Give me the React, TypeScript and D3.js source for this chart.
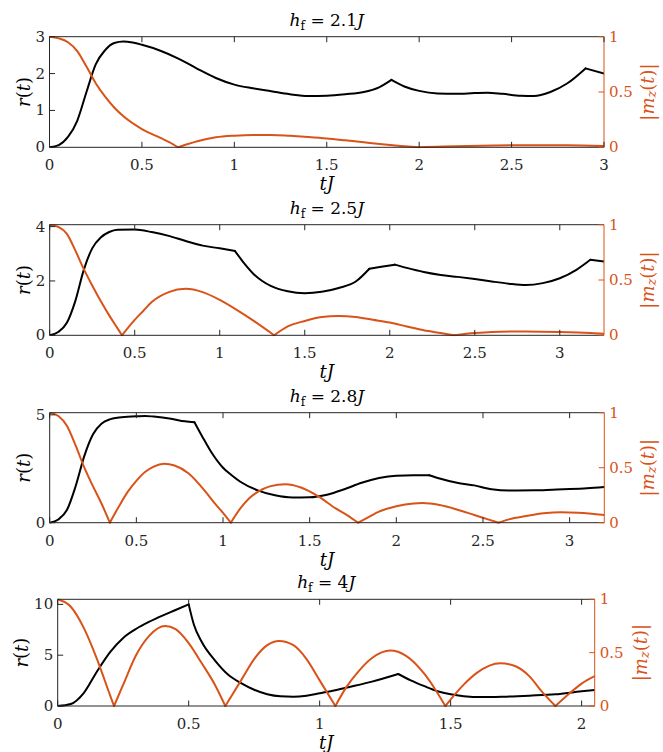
import React from 'react';
import * as d3 from 'd3';

const W = 663;
const H = 752;
const ORANGE = '#D95319';
const AXC = '#262626';
const FONT = "DejaVu Serif, Liberation Serif, Noto Serif, Times New Roman, Times, serif";

// ---------- data ----------
const hfValues = ['2.1', '2.5', '2.8', '4'];
const xMaxes = [3, 3.26, 3.2, 2.05];
const rMaxes = [3, 4.07, 5.1, 10.5];
const xTicks = [
  [0, 0.5, 1, 1.5, 2, 2.5, 3],
  [0, 0.5, 1, 1.5, 2, 2.5, 3],
  [0, 0.5, 1, 1.5, 2, 2.5, 3],
  [0, 0.5, 1, 1.5, 2],
];
const rTicks = [[0, 1, 2, 3], [0, 2, 4], [0, 5], [0, 5, 10]];
const mTicks = [0, 0.5, 1];

const r1 = [[0,0],[0.05,0.06],[0.1,0.28],[0.15,0.72],[0.2,1.5],[0.25,2.25],[0.3,2.63],[0.35,2.83],[0.4,2.87],[0.45,2.84],[0.5,2.78],[0.6,2.62],[0.7,2.4],[0.8,2.13],[0.9,1.88],[1.0,1.7],[1.1,1.6],[1.2,1.52],[1.3,1.44],[1.4,1.39],[1.5,1.4],[1.6,1.44],[1.7,1.5],[1.78,1.62],[1.85,1.83],[1.92,1.65],[2.0,1.53],[2.1,1.46],[2.2,1.45],[2.3,1.47],[2.37,1.48],[2.45,1.45],[2.55,1.4],[2.62,1.39],[2.71,1.5],[2.8,1.73],[2.9,2.14],[3.0,2.0]];
const r1Kinks = [1.85, 2.9];
const m1 = [[0,1],[0.05,0.985],[0.1,0.95],[0.15,0.87],[0.2,0.73],[0.25,0.58],[0.3,0.46],[0.35,0.36],[0.4,0.28],[0.5,0.165],[0.6,0.085],[0.65,0.045],[0.696,0],[0.75,0.03],[0.8,0.055],[0.9,0.09],[1.0,0.105],[1.1,0.112],[1.2,0.112],[1.3,0.104],[1.4,0.093],[1.5,0.08],[1.6,0.063],[1.7,0.045],[1.8,0.027],[1.9,0.012],[2.0,0],[2.1,0.005],[2.2,0.01],[2.4,0.016],[2.6,0.019],[2.8,0.018],[3.0,0.012]];
const m1Kinks = [0.696, 2.0];

const r2 = [[0,0],[0.05,0.12],[0.1,0.45],[0.15,1.25],[0.2,2.4],[0.25,3.2],[0.3,3.6],[0.35,3.8],[0.4,3.88],[0.5,3.89],[0.6,3.8],[0.7,3.66],[0.8,3.47],[0.9,3.3],[1.0,3.2],[1.09,3.1],[1.15,2.6],[1.2,2.25],[1.25,2.0],[1.3,1.82],[1.4,1.62],[1.5,1.55],[1.6,1.6],[1.7,1.74],[1.8,1.98],[1.88,2.45],[1.95,2.52],[2.03,2.6],[2.1,2.48],[2.2,2.33],[2.3,2.22],[2.4,2.15],[2.5,2.07],[2.6,1.98],[2.7,1.9],[2.8,1.85],[2.9,1.92],[3.0,2.1],[3.1,2.42],[3.18,2.78],[3.26,2.72]];
const r2Kinks = [1.09, 1.88, 2.03, 3.18];
const m2 = [[0,1],[0.05,0.98],[0.1,0.92],[0.15,0.77],[0.2,0.6],[0.25,0.45],[0.3,0.31],[0.35,0.18],[0.4,0.06],[0.425,0],[0.5,0.14],[0.55,0.22],[0.6,0.3],[0.7,0.39],[0.8,0.42],[0.9,0.39],[1.0,0.32],[1.1,0.23],[1.2,0.13],[1.32,0],[1.4,0.08],[1.5,0.13],[1.6,0.165],[1.7,0.175],[1.8,0.165],[1.9,0.14],[2.0,0.115],[2.1,0.08],[2.2,0.045],[2.3,0.02],[2.38,0],[2.5,0.02],[2.6,0.03],[2.8,0.035],[3.0,0.03],[3.26,0.015]];
const m2Kinks = [0.425, 1.32, 2.38];

const r3 = [[0,0],[0.05,0.15],[0.1,0.6],[0.15,1.7],[0.2,3.1],[0.25,4.1],[0.3,4.6],[0.35,4.8],[0.4,4.88],[0.5,4.93],[0.55,4.95],[0.6,4.92],[0.7,4.82],[0.78,4.7],[0.835,4.66],[0.88,4.0],[0.93,3.3],[1.0,2.55],[1.05,2.2],[1.1,1.9],[1.2,1.5],[1.3,1.27],[1.4,1.17],[1.5,1.18],[1.6,1.3],[1.7,1.55],[1.8,1.85],[1.9,2.07],[2.0,2.18],[2.1,2.2],[2.19,2.2],[2.25,2.05],[2.35,1.85],[2.45,1.73],[2.55,1.55],[2.65,1.49],[2.8,1.5],[2.9,1.53],[3.0,1.56],[3.1,1.6],[3.2,1.66]];
const r3Kinks = [0.835, 2.19];
const m3 = [[0,1],[0.05,0.97],[0.1,0.88],[0.15,0.7],[0.2,0.5],[0.25,0.33],[0.3,0.17],[0.347,0],[0.4,0.15],[0.45,0.28],[0.5,0.38],[0.55,0.46],[0.6,0.51],[0.66,0.535],[0.72,0.52],[0.8,0.45],[0.9,0.28],[0.95,0.18],[1.0,0.09],[1.045,0],[1.1,0.13],[1.15,0.22],[1.2,0.28],[1.27,0.33],[1.36,0.35],[1.45,0.32],[1.55,0.24],[1.65,0.13],[1.72,0.065],[1.78,0],[1.85,0.06],[1.9,0.1],[2.0,0.15],[2.1,0.175],[2.15,0.178],[2.25,0.16],[2.35,0.12],[2.45,0.07],[2.52,0.035],[2.59,0],[2.65,0.03],[2.75,0.06],[2.85,0.085],[2.95,0.095],[3.05,0.09],[3.2,0.07]];
const m3Kinks = [0.347, 1.045, 1.78, 2.59];

const r4 = [[0,0],[0.05,0.2],[0.1,1.3],[0.15,3.4],[0.2,5.3],[0.25,6.7],[0.3,7.6],[0.35,8.3],[0.4,8.9],[0.45,9.45],[0.5,10.0],[0.52,8.0],[0.55,6.3],[0.6,4.5],[0.65,3.1],[0.7,2.25],[0.75,1.6],[0.8,1.15],[0.85,0.95],[0.9,0.92],[0.95,1.02],[1.0,1.25],[1.05,1.5],[1.1,1.8],[1.2,2.4],[1.3,3.15],[1.35,2.5],[1.4,1.95],[1.45,1.45],[1.5,1.15],[1.55,0.97],[1.62,0.88],[1.7,0.92],[1.8,1.02],[1.9,1.15],[2.0,1.45],[2.05,1.57]];
const r4Kinks = [0.5, 1.3];
const m4 = [[0,1],[0.05,0.93],[0.1,0.73],[0.15,0.44],[0.2,0.1],[0.215,0],[0.25,0.2],[0.3,0.48],[0.35,0.66],[0.41,0.75],[0.45,0.72],[0.5,0.59],[0.55,0.4],[0.6,0.2],[0.64,0],[0.7,0.24],[0.75,0.44],[0.8,0.57],[0.845,0.61],[0.9,0.57],[0.95,0.44],[1.0,0.24],[1.06,0],[1.1,0.17],[1.15,0.33],[1.2,0.45],[1.27,0.52],[1.33,0.47],[1.4,0.3],[1.44,0.16],[1.48,0],[1.55,0.2],[1.6,0.31],[1.69,0.4],[1.75,0.37],[1.8,0.28],[1.85,0.13],[1.9,0],[1.95,0.11],[2.0,0.21],[2.05,0.28]];
const m4Kinks = [0.215, 0.64, 1.06, 1.48, 1.9];

const rSeries = [r1, r2, r3, r4];
const mSeries = [m1, m2, m3, m4];
const rKinks = [r1Kinks, r2Kinks, r3Kinks, r4Kinks];
const mKinks = [m1Kinks, m2Kinks, m3Kinks, m4Kinks];

// ---------- layout ----------
const frames = [
  { l: 49.5, r: 604, t: 36.7, b: 147.3, yl: 23.3, yr: 647 },
  { l: 49.7, r: 604, t: 224.7, b: 335.3, yl: 23.3, yr: 647 },
  { l: 49.7, r: 604.3, t: 412.7, b: 522.7, yl: 23.3, yr: 647 },
  { l: 57.7, r: 594.7, t: 599.3, b: 706, yl: 20.5, yr: 639.5 },
];

function split(data: number[][], kinks: number[]) {
  const segs: number[][][] = [];
  let cur: number[][] = [];
  data.forEach((p) => {
    cur.push(p);
    if (kinks.some((k) => Math.abs(k - p[0]) < 1e-9)) {
      if (cur.length > 1) segs.push(cur);
      cur = [p];
    }
  });
  if (cur.length > 1) segs.push(cur);
  return segs;
}

const fmt = (v: number) => String(v);
const TL = 5.5;
const TICK_FS = 15;
const LABEL_FS = 18;
const TITLE_FS = 17;

function Panel({ i }: { i: number }) {
  const f = frames[i];
  const x = d3.scaleLinear().domain([0, xMaxes[i]]).range([f.l, f.r]);
  const yr = d3.scaleLinear().domain([0, rMaxes[i]]).range([f.b, f.t]);
  const ym = d3.scaleLinear().domain([0, 1]).range([f.b, f.t]);
  const lineR = d3.line<number[]>().x((d) => x(d[0])).y((d) => yr(d[1])).curve(d3.curveMonotoneX);
  const lineM = d3.line<number[]>().x((d) => x(d[0])).y((d) => ym(d[1])).curve(d3.curveMonotoneX);
  const clipId = `clip${i}`;
  const cx = (f.l + f.r) / 2;
  const cy = (f.t + f.b) / 2;
  return (
    <g>
      <defs>
        <clipPath id={clipId}>
          <rect x={f.l} y={f.t - 1} width={f.r - f.l} height={f.b - f.t + 2} />
        </clipPath>
      </defs>
      <text x={cx} y={f.t - 11} textAnchor="middle" fontSize={TITLE_FS} style={{ fontFamily: FONT }} fill="#000">
        <tspan fontStyle="italic">h</tspan>
        <tspan fontSize={12} dy={4}>f</tspan>
        <tspan dy={-4}> = {hfValues[i]}</tspan>
        <tspan fontStyle="italic">J</tspan>
      </text>
      <g clipPath={`url(#${clipId})`}>
        {split(rSeries[i], rKinks[i]).map((s, k) => (
          <path key={'r' + k} d={lineR(s) || ''} fill="none" stroke="#000" strokeWidth={2} strokeLinejoin="round" strokeLinecap="round" />
        ))}
        {split(mSeries[i], mKinks[i]).map((s, k) => (
          <path key={'m' + k} d={lineM(s) || ''} fill="none" stroke={ORANGE} strokeWidth={2} strokeLinejoin="round" strokeLinecap="round" />
        ))}
      </g>
      <line x1={f.l} x2={f.r} y1={f.t} y2={f.t} stroke={AXC} strokeWidth={1} />
      <line x1={f.l} x2={f.r} y1={f.b} y2={f.b} stroke={AXC} strokeWidth={1} />
      <line x1={f.l} x2={f.l} y1={f.t} y2={f.b} stroke={AXC} strokeWidth={1} />
      <line x1={f.r} x2={f.r} y1={f.t} y2={f.b} stroke={ORANGE} strokeWidth={1} />
      {xTicks[i].map((v) => (
        <g key={'x' + v}>
          <line x1={x(v)} x2={x(v)} y1={f.b} y2={f.b - TL} stroke={AXC} strokeWidth={1} />
          <line x1={x(v)} x2={x(v)} y1={f.t} y2={f.t + TL} stroke={AXC} strokeWidth={1} />
          <text x={x(v)} y={f.b + 23} textAnchor="middle" fontSize={TICK_FS} style={{ fontFamily: FONT }} fill={AXC}>{fmt(v)}</text>
        </g>
      ))}
      {rTicks[i].map((v) => (
        <g key={'yl' + v}>
          <line x1={f.l} x2={f.l + TL} y1={yr(v)} y2={yr(v)} stroke={AXC} strokeWidth={1} />
          <text x={f.l - 4.5} y={yr(v)} textAnchor="end" dominantBaseline="central" fontSize={TICK_FS} style={{ fontFamily: FONT }} fill={AXC}>{fmt(v)}</text>
        </g>
      ))}
      {mTicks.map((v) => (
        <g key={'yr' + v}>
          <line x1={f.r} x2={f.r - TL} y1={ym(v)} y2={ym(v)} stroke={ORANGE} strokeWidth={1} />
          <text x={f.r + 5} y={ym(v)} textAnchor="start" dominantBaseline="central" fontSize={TICK_FS} style={{ fontFamily: FONT }} fill={ORANGE}>{fmt(v)}</text>
        </g>
      ))}
      <text x={cx} y={f.b + 43} textAnchor="middle" fontSize={LABEL_FS} style={{ fontFamily: FONT }} fill="#000">
        <tspan fontStyle="italic">tJ</tspan>
      </text>
      <text transform={`translate(${f.yl},${cy}) rotate(-90)`} textAnchor="middle" dominantBaseline="central" fontSize={LABEL_FS} style={{ fontFamily: FONT }} fill="#000">
        <tspan fontStyle="italic">r</tspan>(<tspan fontStyle="italic">t</tspan>)
      </text>
      <text transform={`translate(${f.yr},${cy}) rotate(-90)`} textAnchor="middle" dominantBaseline="central" fontSize={LABEL_FS} style={{ fontFamily: FONT }} fill={ORANGE}>
        |<tspan fontStyle="italic">m</tspan>
        <tspan fontStyle="italic" fontSize={13} dy={4}>z</tspan>
        <tspan dy={-4}>(</tspan>
        <tspan fontStyle="italic">t</tspan>)|
      </text>
    </g>
  );
}

export default function App() {
  return (
    <svg width={W} height={H} viewBox={`0 0 ${W} ${H}`} style={{ position: 'absolute', left: 0, top: 0, background: '#fff' }}>
      <rect x={0} y={0} width={W} height={H} fill="#fff" />
      {[0, 1, 2, 3].map((i) => (
        <Panel key={i} i={i} />
      ))}
    </svg>
  );
}
